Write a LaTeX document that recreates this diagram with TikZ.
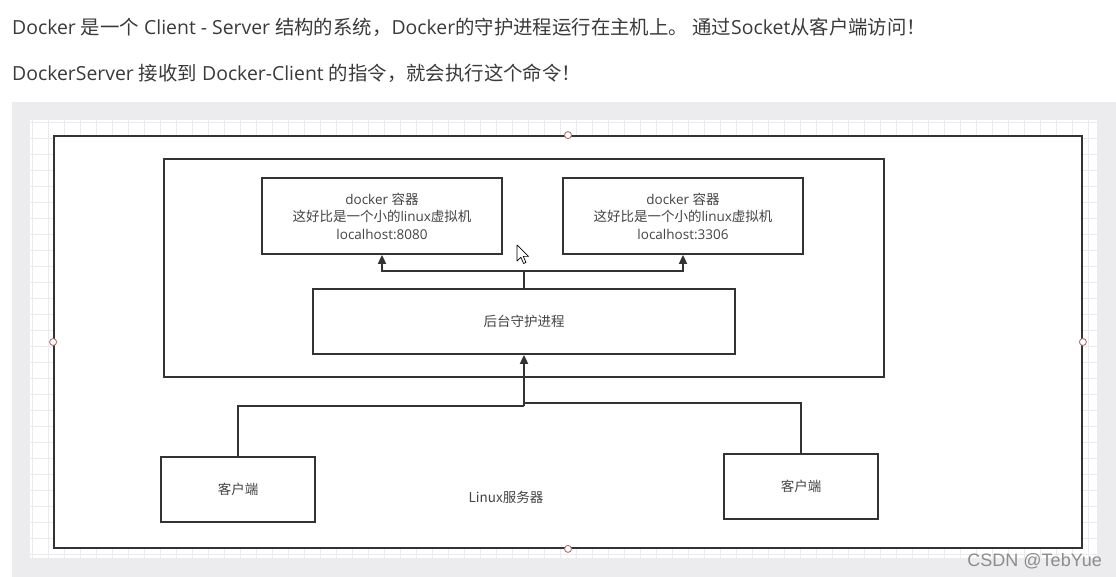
\documentclass[tikz,border=0pt]{standalone}
\usepackage{fontspec}
\setmainfont{Open Sans}
\newfontfamily\cjk{Noto Sans CJK SC}
\newfontfamily\wmfont{Liberation Sans}
\usetikzlibrary{arrows.meta}
\definecolor{txt}{HTML}{3A3A3A}
\definecolor{ink}{HTML}{333333}
\definecolor{lbl}{HTML}{444444}
\definecolor{panel}{HTML}{ECECEE}
\definecolor{gridc}{HTML}{EBEBEF}
\definecolor{handle}{HTML}{B07070}
\tikzset{
  box/.style={draw=ink, line width=1.8pt, fill=white, inner sep=0pt, align=center, text=lbl, font=\fontsize{13.5}{17.5}\selectfont},
  wire/.style={draw=ink, line width=1.8pt},
  arrowwire/.style={draw=ink, line width=1.8pt, -{Triangle[length=9pt,width=8pt]}},
  handledot/.style={circle, draw=handle, fill=white, line width=0.9pt, minimum size=7pt, inner sep=0pt},
  para/.style={anchor=west, text=txt, inner sep=0pt, font=\fontsize{19.4}{22}\selectfont}
}
\begin{document}
\begin{tikzpicture}[x=1pt,y=-1pt]
\useasboundingbox (0,0) rectangle (1116,577);
\fill[white] (0,0) rectangle (1116,577);
% top text
\node[para] (l1) at (12,27) {Docker {\cjk 是一个} Client - Server {\cjk 结构的系统，}Docker{\cjk 的守护进程运行在主机上。 通过}Socket{\cjk 从客户端访问！}};
\node[para] (l2) at (12,73) {DockerServer {\cjk 接收到} Docker-Client {\cjk 的指令，就会执行这个命令！}};
% panel and canvas
\fill[panel] (12,102) rectangle (1116,577);
\fill[white] (30,120) rectangle (1097,558);
\foreach \gx in {32,48,...,1096} \draw[gridc, line width=0.8pt] (\gx,120) -- (\gx,558);
\foreach \gy in {122,138,...,557} \draw[gridc, line width=0.8pt] (30,\gy) -- (1097,\gy);
% outer server box
\node[box, minimum width=1028pt, minimum height=412pt] (server) at (568,342) {};
\node[text=lbl, font=\cjk\fontsize{13.5}{15}\selectfont] (srvlabel) at (506,497) {Linux服务器};
% handles
\node[handledot] (h1) at (server.north) {};
\node[handledot] (h2) at (server.south) {};
\node[handledot] (h3) at (server.west) {};
\node[handledot] (h4) at (server.east) {};
% docker engine box
\node[box, minimum width=720pt, minimum height=218pt] (engine) at (524,268) {};
% containers
\node[box, minimum width=240pt, minimum height=76pt] (c1) at (382,216) {docker {\cjk 容器}\\{\cjk 这好比是一个小的}linux{\cjk 虚拟机}\\localhost:8080};
\node[box, minimum width=240pt, minimum height=76pt] (c2) at (683,216) {docker {\cjk 容器}\\{\cjk 这好比是一个小的}linux{\cjk 虚拟机}\\localhost:3306};
% daemon
\node[box, minimum width=422pt, minimum height=65pt, font=\cjk\fontsize{13.5}{15}\selectfont] (daemon) at (524,321.5) {后台守护进程};
% clients
\node[box, minimum width=154pt, minimum height=65pt, font=\cjk\fontsize{13.5}{15}\selectfont] (cl) at (238,489.5) {客户端};
\node[box, minimum width=154pt, minimum height=65pt, font=\cjk\fontsize{13.5}{15}\selectfont] (cr) at (801,486.5) {客户端};
% connectors
\coordinate (split) at (524,271);
\coordinate (jl) at (524,406);
\coordinate (jr) at (524,403);
\draw[wire] (daemon.north) -- (split);
\draw[arrowwire] (split) -| (c1.south);
\draw[arrowwire] (split) -| (c2.south);
\draw[wire] (cl.north) |- (jl);
\draw[wire] (cr.north) |- (jr);
\draw[arrowwire] (jl) -- (daemon.south);
% mouse cursor
\draw[black, fill=white, line width=0.7pt, line join=round] (517,245) -- (517,261) -- (520.8,257.3) -- (523.6,263.5) -- (526,262.5) -- (523.3,256.4) -- (528.5,256.4) -- cycle;
% watermark
\node[anchor=east, text=black!45, font=\wmfont\fontsize{18}{20}\selectfont, inner sep=0pt] (wm) at (1102,561) {CSDN @TebYue};
\end{tikzpicture}
\end{document}
